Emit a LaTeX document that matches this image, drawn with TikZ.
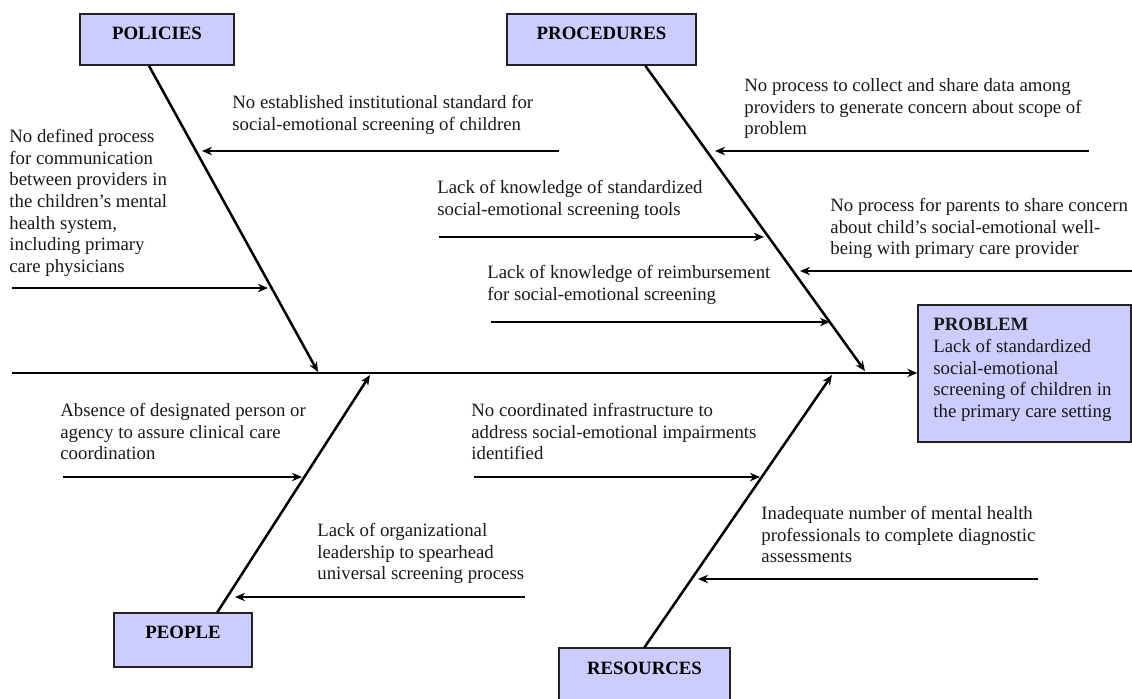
\documentclass[tikz,border=0pt]{standalone}
\usepackage{fontspec}
\setmainfont{Liberation Serif}
\usetikzlibrary{arrows.meta,calc}
\definecolor{boxfill}{HTML}{CCCCFF}
\definecolor{boxline}{HTML}{222222}
\begin{document}
\begin{tikzpicture}[x=0.5pt,y=-0.5pt,
  every node/.style={font=\fontsize{9.4pt}{10.8pt}\selectfont},
  catbox/.style={draw=boxline,line width=0.7pt,fill=boxfill,inner sep=0pt,minimum height=25.5pt},
  cattext/.style={font=\fontsize{9.4pt}{10.8pt}\selectfont\bfseries,inner sep=0pt},
  cause/.style={anchor=north west,align=left,inner sep=0pt,text=black!90},
  bone/.style={line width=1.25pt,-{Stealth[length=5pt,width=4.2pt,inset=1.6pt]}},
  twig/.style={line width=1.15pt,-{Stealth[length=5pt,width=4.2pt,inset=1.6pt]}}]
\useasboundingbox (0,0) rectangle (1132,698);

% category boxes
\node[catbox,minimum width=77pt] (pol) at (157,39.5) {};
\node[cattext] (polt) at (157,33) {POLICIES};
\node[catbox,minimum width=94.5pt] (proc) at (601.5,39.5) {};
\node[cattext] (proct) at (601.5,33) {PROCEDURES};
\node[catbox,minimum width=69pt,minimum height=27pt] (peop) at (183,640) {};
\node[cattext] (peopt) at (183,632) {PEOPLE};
\node[catbox,minimum width=85.5pt,minimum height=29pt] (res) at (644.5,677) {};
\node[cattext] (rest) at (644.5,668) {RESOURCES};

% problem box
\node[catbox,minimum width=106.5pt,minimum height=68.5pt] (prob) at (1024.5,373.5) {};
\node[cause] (probt) at (933,318) {\textbf{PROBLEM}\\Lack of standardized\\social-emotional\\screening of children in\\the primary care setting};

% spine
\coordinate (tail) at (12,373);
\draw[bone] (tail) -- (prob.west |- tail);

% bone ends on the spine
\coordinate (polEnd) at (318,372);
\coordinate (procEnd) at (865,371);
\coordinate (peopEnd) at (370,375);
\coordinate (resEnd) at (832,375);

\draw[bone] ($(pol.south west)!0.448!(pol.south east)$) -- (polEnd);
\draw[bone] ($(proc.south west)!0.73!(proc.south east)$) -- (procEnd);
\draw[bone] ($(peop.north west)!0.746!(peop.north east)$) -- (peopEnd);
\draw[bone] (res.north) -- (resEnd);

% policies causes
\node[cause] (c1) at (232,95) {No established institutional standard for\\social-emotional screening of children};
\coordinate (c1a) at (559,151); \coordinate (c1b) at (202,151);
\draw[twig] (c1a) -- (c1b);
\node[cause] (c2) at (9,129) {No defined process\\for communication\\between providers in\\the children's mental\\health system,\\including primary\\care physicians};
\coordinate (c2a) at (12,288); \coordinate (c2b) at (268,288);
\draw[twig] (c2a) -- (c2b);

% procedures causes
\node[cause] (c3) at (744,78) {No process to collect and share data among\\providers to generate concern about scope of\\problem};
\coordinate (c3a) at (1089,151); \coordinate (c3b) at (715,151);
\draw[twig] (c3a) -- (c3b);
\node[cause] (c4) at (437,180) {Lack of knowledge of standardized\\social-emotional screening tools};
\coordinate (c4a) at (439,237); \coordinate (c4b) at (764,237);
\draw[twig] (c4a) -- (c4b);
\node[cause] (c5) at (830,198) {No process for parents to share concern\\about child's social-emotional well-\\being with primary care provider};
\coordinate (c5a) at (1132,271); \coordinate (c5b) at (800,271);
\draw[twig] (c5a) -- (c5b);
\node[cause] (c6) at (487,265) {Lack of knowledge of reimbursement\\for social-emotional screening};
\coordinate (c6a) at (491,322); \coordinate (c6b) at (830,322);
\draw[twig] (c6a) -- (c6b);

% people causes
\node[cause] (c7) at (60,403) {Absence of designated person or\\agency to assure clinical care\\coordination};
\coordinate (c7a) at (63,477); \coordinate (c7b) at (302,477);
\draw[twig] (c7a) -- (c7b);
\node[cause] (c8) at (317,523) {Lack of organizational\\leadership to spearhead\\universal screening process};
\coordinate (c8a) at (525,597); \coordinate (c8b) at (235,597);
\draw[twig] (c8a) -- (c8b);

% resources causes
\node[cause] (c9) at (471,403) {No coordinated infrastructure to\\address social-emotional impairments\\identified};
\coordinate (c9a) at (474,477); \coordinate (c9b) at (760,477);
\draw[twig] (c9a) -- (c9b);
\node[cause] (c10) at (761,506) {Inadequate number of mental health\\professionals to complete diagnostic\\assessments};
\coordinate (c10a) at (1038,579); \coordinate (c10b) at (698,579);
\draw[twig] (c10a) -- (c10b);
\end{tikzpicture}
\end{document}
